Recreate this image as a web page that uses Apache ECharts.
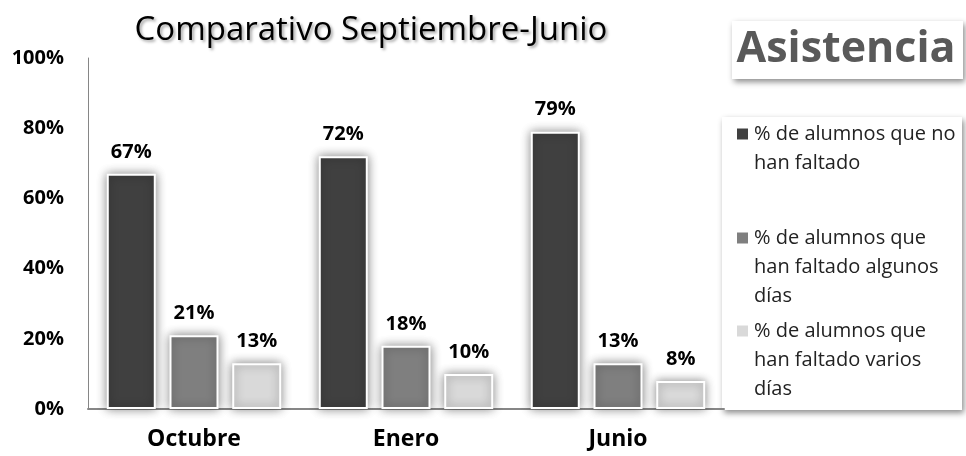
<!DOCTYPE html>
<html>
<head>
<meta charset="utf-8">
<script src="https://cdn.jsdelivr.net/npm/echarts@6/dist/echarts.min.js"></script>
<style>
  html, body { margin: 0; padding: 0; background: #fff; }
  #chart { width: 966px; height: 456px; }
</style>
</head>
<body>
<div id="chart"></div>
<script>
const months = ['Octubre', 'Enero', 'Junio']
const seriesNames = [
  '% de alumnos que no\nhan faltado',
  '% de alumnos que\nhan faltado algunos\ndías',
  '% de alumnos que\nhan faltado varios\ndías',
]
const noFaltado = [67, 72, 79]
const algunosDias = [21, 18, 13]
const variosDias = [13, 10, 8]
const yTicks = [0, 20, 40, 60, 80, 100]

const COLORS = ['#404040', '#7f7f7f', '#d9d9d9']
const FONT = '"Open Sans", "Noto Sans", sans-serif'
const LINE_H = 29
// centre of the first text line of each legend entry
const LEGEND_ROWS = [134, 238, 331]

const chart = echarts.init(document.getElementById('chart'))

// legend icons sit at the middle of the text block, so pad the text with
// blank lines on top to line the icon up with the first line
function legendFor(i) {
  const lines = seriesNames[i].split('\n').length
  return {
    left: 735,
    top: LEGEND_ROWS[i] - ((2 * lines - 1) * LINE_H) / 2,
    padding: 0,
    itemWidth: 13,
    itemHeight: 13,
    icon: 'rect',
    selectedMode: false,
    data: [seriesNames[i]],
    formatter: (name) => '\n'.repeat(lines - 1) + name,
    textStyle: {
      fontFamily: FONT,
      fontSize: 20,
      color: '#222',
      lineHeight: LINE_H,
    },
  }
}

function barSeries(i, values) {
  return {
    type: 'bar',
    name: seriesNames[i],
    data: values,
    barWidth: 49,
    barGap: '28%',
    itemStyle: {
      color: COLORS[i],
      borderColor: '#fff',
      borderWidth: 2,
      shadowBlur: 10,
      shadowColor: 'rgba(0,0,0,0.45)',
    },
    label: {
      show: true,
      position: 'top',
      distance: 12,
      formatter: '{c}%',
      fontFamily: FONT,
      fontWeight: 'bold',
      fontSize: 20,
      color: '#000',
    },
  }
}

chart.setOption({
  backgroundColor: '#fff',
  animation: false,
  title: {
    text: 'Comparativo Septiembre-Junio',
    left: 366,
    top: 9,
    textAlign: 'center',
    textStyle: {
      fontFamily: FONT,
      fontWeight: 'normal',
      fontSize: 33,
      color: '#000',
      textShadowColor: 'rgba(0,0,0,0.35)',
      textShadowBlur: 3,
      textShadowOffsetX: 2,
      textShadowOffsetY: 2,
    },
  },
  graphic: [
    {
      type: 'rect',
      shape: { x: 732, y: 21, width: 231, height: 58 },
      style: { fill: '#fff', shadowBlur: 6, shadowOffsetX: 2, shadowOffsetY: 3, shadowColor: 'rgba(0,0,0,0.45)' },
      z: 0,
    },
    {
      type: 'text',
      x: 846,
      y: 50,
      style: {
        text: 'Asistencia',
        fontFamily: FONT,
        fontWeight: 'bold',
        fontSize: 43,
        fill: '#595959',
        align: 'center',
        verticalAlign: 'middle',
      },
      z: 1,
    },
    {
      type: 'rect',
      shape: { x: 722, y: 117, width: 240, height: 293 },
      style: { fill: '#fff', shadowBlur: 6, shadowOffsetX: 2, shadowOffsetY: 3, shadowColor: 'rgba(0,0,0,0.45)' },
      z: 0,
    },
  ],
  legend: [legendFor(0), legendFor(1), legendFor(2)],
  grid: { left: 88, top: 58, width: 636, bottom: 47 },
  xAxis: {
    type: 'category',
    data: months,
    axisLine: { show: true, lineStyle: { color: '#868686', width: 2 } },
    axisTick: { show: false },
    axisLabel: {
      margin: 19,
      fontFamily: FONT,
      fontWeight: 'bold',
      fontSize: 23,
      color: '#000',
    },
  },
  yAxis: {
    type: 'value',
    min: yTicks[0],
    max: yTicks[yTicks.length - 1],
    interval: 20,
    axisLine: { show: true, lineStyle: { color: '#868686', width: 1 } },
    axisTick: { show: false },
    splitLine: { show: false },
    axisLabel: {
      margin: 24,
      formatter: '{value}%',
      fontFamily: FONT,
      fontWeight: 'bold',
      fontSize: 20,
      color: '#000',
    },
  },
  series: [
    barSeries(0, noFaltado),
    barSeries(1, algunosDias),
    barSeries(2, variosDias),
  ],
})
</script>
</body>
</html>
